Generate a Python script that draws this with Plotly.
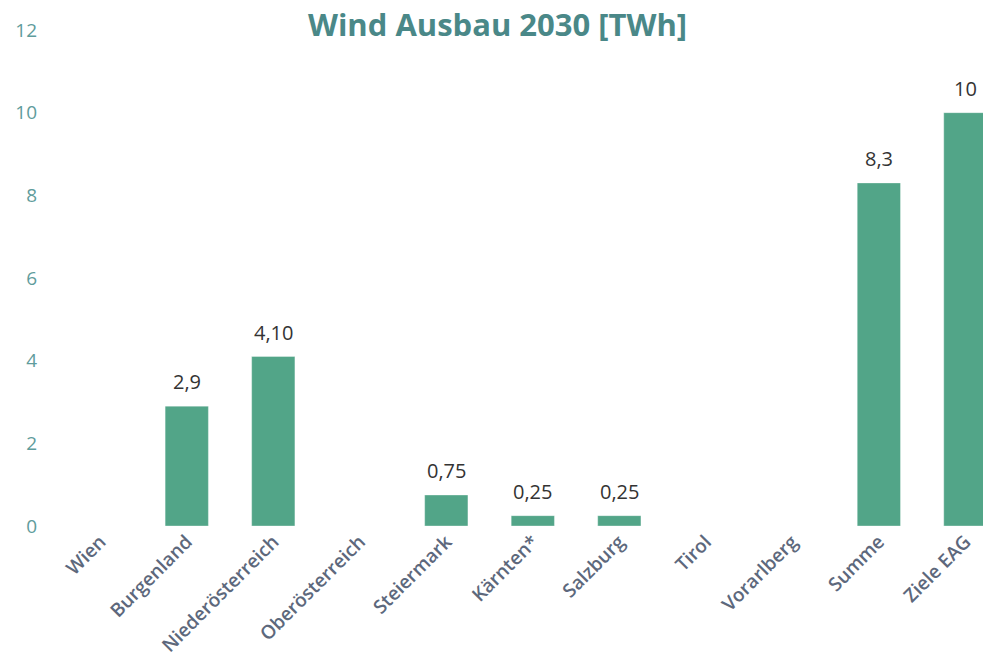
import plotly.graph_objects as go

# Wind expansion 2030 per federal state [TWh]
regions = ["Wien", "Burgenland", "Niederösterreich", "Oberösterreich", "Steiermark",
           "Kärnten*", "Salzburg", "Tirol", "Vorarlberg", "Summe", "Ziele EAG"]
wind_twh = [None, 2.9, 4.1, None, 0.75, 0.25, 0.25, None, None, 8.3, 10]
value_labels = ["", "2,9", "4,10", "", "0,75", "0,25", "0,25", "", "", "8,3", "10"]

BAR_COLOR = "#52a588"
TITLE_COLOR = "#4a8888"
YTICK_COLOR = "#5f9c9c"
XTICK_COLOR = "#5d687c"

fig = go.Figure()

fig.add_trace(go.Bar(
    x=regions,
    y=wind_twh,
    marker=dict(color=BAR_COLOR, line=dict(color="rgba(255,255,255,0.35)", width=1)),
    hoverinfo="x+y",
))

# value labels above the bars
for reg, val, lab in zip(regions, wind_twh, value_labels):
    if val is None or not lab:
        continue
    fig.add_annotation(
        x=reg, y=val, text=lab, showarrow=False,
        yanchor="bottom", yshift=9,
        font=dict(family="Open Sans", size=20, color="#333333"),
    )

# page body adds an 8px margin, so the figure is a bit smaller than the window
fig.update_layout(
    width=983, height=644,
    paper_bgcolor="white",
    plot_bgcolor="white",
    font=dict(family="Open Sans"),
    title=dict(
        text="<b>Wind Ausbau 2030 [TWh]</b>",
        font=dict(family="Open Sans", size=31, color=TITLE_COLOR),
        x=0.498, xanchor="center", y=0.974, yanchor="middle",
    ),
    xaxis=dict(
        range=[-0.5, 10.25],
        tickangle=-45,
        showgrid=False, showline=False, zeroline=False,
        tickfont=dict(family="Open Sans", size=19, color=XTICK_COLOR, weight=600),
        automargin=False,
    ),
    yaxis=dict(
        range=[0, 12],
        dtick=2,
        showgrid=False, showline=False, zeroline=False,
        tickfont=dict(family="Open Sans", size=19, color=YTICK_COLOR),
        ticklabelstandoff=19,
        automargin=False,
    ),
    bargap=0.5,
    showlegend=False,
    margin=dict(l=49, r=4, t=22, b=126),
)

fig.write_html("out.html")
